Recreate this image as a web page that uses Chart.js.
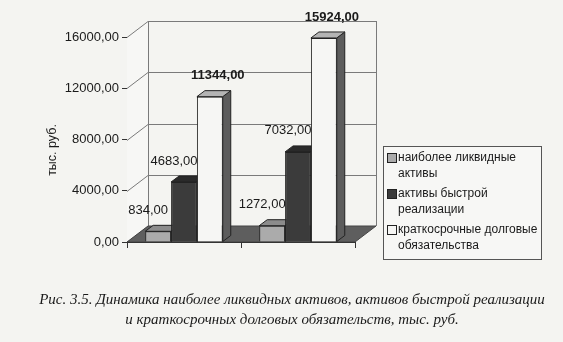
<!DOCTYPE html>
<html>
<head>
<meta charset="utf-8">
<script src="https://cdn.jsdelivr.net/npm/chart.js@4/dist/chart.umd.min.js"></script>
<style>
  html, body { margin: 0; padding: 0; background: #f4f4f1; }
  #wrap { position: relative; width: 563px; height: 342px; }
</style>
</head>
<body>
<div id="wrap"><canvas id="chart" width="563" height="342"></canvas></div>
<script>
// data
var categories = ["", ""];
var seriesNames = ["наиболее ликвидные активы", "активы быстрой реализации", "краткосрочные долговые обязательства"];
var liquid = [834, 1272];
var quick = [4683, 7032];
var shortDebt = [11344, 15924];
var yTicks = [0, 4000, 8000, 12000, 16000];
var yTitle = "тыс. руб.";
var caption = ["Рис. 3.5. Динамика наиболее ликвидных активов, активов быстрой реализации",
               "и краткосрочных долговых обязательств, тыс. руб."];

// colours: front, top, side
var faces = [
  ["#ababab", "#8c8c8c", "#6e6e6e"],
  ["#3b3b3b", "#2a2a2a", "#262626"],
  ["#f6f6f4", "#b4b4b4", "#5c5c5c"]
];

function fmt(v) { return v.toFixed(2).replace(".", ","); }

var wall = { dx: 21, dy: -16 };
var bar3d = { dx: 8, dy: -6 };
var sans = "'Liberation Sans', Arial, sans-serif";

function poly(ctx, pts, fill, stroke) {
  ctx.beginPath();
  ctx.moveTo(pts[0][0], pts[0][1]);
  for (var i = 1; i < pts.length; i++) ctx.lineTo(pts[i][0], pts[i][1]);
  ctx.closePath();
  if (fill) { ctx.fillStyle = fill; ctx.fill(); }
  if (stroke) { ctx.strokeStyle = stroke; ctx.lineWidth = 1; ctx.stroke(); }
}

var threeD = {
  id: "threeD",
  beforeDatasetsDraw: function(chart) {
    var ctx = chart.ctx, a = chart.chartArea, y = chart.scales.y;
    ctx.save();
    // walls
    poly(ctx, [[a.left, a.bottom], [a.left, a.top], [a.left + wall.dx, a.top + wall.dy], [a.left + wall.dx, a.bottom + wall.dy]], "#f7f7f5", null);
    ctx.strokeStyle = "#7a7a7a";
    ctx.lineWidth = 1;
    yTicks.forEach(function(v) {
      var py = Math.round(y.getPixelForValue(v)) + 0.5;
      ctx.beginPath();
      ctx.moveTo(a.left, py);
      ctx.lineTo(a.left + wall.dx, py + wall.dy);
      ctx.lineTo(a.right + wall.dx, py + wall.dy);
      ctx.stroke();
    });
    ctx.beginPath();
    ctx.moveTo(a.left + wall.dx + 0.5, a.top + wall.dy);
    ctx.lineTo(a.left + wall.dx + 0.5, a.bottom + wall.dy);
    ctx.moveTo(a.right + wall.dx + 0.5, a.top + wall.dy);
    ctx.lineTo(a.right + wall.dx + 0.5, a.bottom + wall.dy);
    ctx.stroke();
    // floor
    poly(ctx, [[a.left, a.bottom], [a.right, a.bottom], [a.right + wall.dx, a.bottom + wall.dy], [a.left + wall.dx, a.bottom + wall.dy]], "#5e5e5e", "#444");
    // x axis ticks
    ctx.strokeStyle = "#333";
    ctx.beginPath();
    ctx.moveTo(a.left, a.bottom + 0.5);
    ctx.lineTo(a.right, a.bottom + 0.5);
    var step = (a.right - a.left) / categories.length;
    for (var k = 0; k <= categories.length; k++) {
      var px = Math.round(a.left + k * step) + 0.5;
      ctx.moveTo(px, a.bottom);
      ctx.lineTo(px, a.bottom + 6);
    }
    ctx.stroke();
    // top and side faces of every bar
    chart.data.datasets.forEach(function(ds, i) {
      chart.getDatasetMeta(i).data.forEach(function(b) {
        var x0 = b.x - b.width / 2, x1 = b.x + b.width / 2, t = b.y, base = b.base;
        poly(ctx, [[x1, base], [x1, t], [x1 + bar3d.dx, t + bar3d.dy], [x1 + bar3d.dx, base + bar3d.dy]], faces[i][2], "#222");
        poly(ctx, [[x0, t], [x1, t], [x1 + bar3d.dx, t + bar3d.dy], [x0 + bar3d.dx, t + bar3d.dy]], faces[i][1], "#222");
      });
    });
    ctx.restore();
  },
  afterDraw: function(chart) {
    var ctx = chart.ctx;
    ctx.save();
    // value labels
    var offX = [-10, -10, 8];
    ctx.textAlign = "center";
    ctx.textBaseline = "middle";
    chart.data.datasets.forEach(function(ds, i) {
      ctx.font = (i === 2 ? "bold " : "") + "13px " + sans;
      ctx.fillStyle = "#1a1a1a";
      chart.getDatasetMeta(i).data.forEach(function(b, j) {
        ctx.fillText(fmt(ds.data[j]), b.x + offX[i], b.y - 21);
      });
    });
    // y axis title
    ctx.save();
    ctx.translate(53, 150);
    ctx.rotate(-Math.PI / 2);
    ctx.font = "12.5px " + sans;
    ctx.fillText(yTitle, 0, 0);
    ctx.restore();
    // legend
    var lx = 383, ly = 146, lw = 158, lh = 113;
    ctx.fillStyle = "#f7f7f5";
    ctx.fillRect(lx, ly, lw, lh);
    ctx.strokeStyle = "#555";
    ctx.lineWidth = 1;
    ctx.strokeRect(lx + 0.5, ly + 0.5, lw, lh);
    ctx.font = "12px " + sans;
    ctx.textAlign = "left";
    var rowY = ly + 12;
    seriesNames.forEach(function(name, i) {
      var words = name.split(" "), lines = [], cur = "";
      words.forEach(function(w) {
        var test = cur ? cur + " " + w : w;
        if (ctx.measureText(test).width > 150 && cur) { lines.push(cur); cur = w; } else cur = test;
      });
      lines.push(cur);
      ctx.fillStyle = faces[i][0];
      ctx.fillRect(lx + 4, rowY - 5, 10, 10);
      ctx.strokeStyle = "#222";
      ctx.strokeRect(lx + 4.5, rowY - 4.5, 9, 9);
      ctx.fillStyle = "#1a1a1a";
      lines.forEach(function(l, k) { ctx.fillText(l, lx + 15, rowY + k * 16); });
      rowY += lines.length * 16 + 4;
    });
    // caption
    ctx.textAlign = "center";
    ctx.font = "italic 15px 'Liberation Serif', 'Times New Roman', serif";
    ctx.fillStyle = "#1a1a1a";
    caption.forEach(function(l, k) { ctx.fillText(l, 292, 300 + k * 20); });
    ctx.restore();
  }
};

var chart = new Chart(document.getElementById("chart"), {
  type: "bar",
  data: {
    labels: categories,
    datasets: [
      { label: seriesNames[0], data: liquid, backgroundColor: faces[0][0], borderColor: "#222", borderWidth: 1 },
      { label: seriesNames[1], data: quick, backgroundColor: faces[1][0], borderColor: "#222", borderWidth: 1 },
      { label: seriesNames[2], data: shortDebt, backgroundColor: faces[2][0], borderColor: "#222", borderWidth: 1 }
    ]
  },
  options: {
    responsive: false,
    animation: false,
    layout: { padding: { left: 0, top: 37, right: 208, bottom: 100 } },
    datasets: { bar: { categoryPercentage: 0.68, barPercentage: 1 } },
    plugins: { legend: { display: false }, tooltip: { enabled: false } },
    scales: {
      x: { display: false },
      y: {
        min: 0, max: 16000,
        afterFit: function(s) { s.width = 127; },
        afterBuildTicks: function(s) { s.ticks = yTicks.map(function(v) { return { value: v }; }); },
        ticks: { callback: function(v) { return fmt(v); }, color: "#1a1a1a", font: { family: sans, size: 13 }, padding: 3 },
        grid: { drawOnChartArea: false, tickLength: 5, color: "#333" },
        border: { display: true, color: "#333" }
      }
    }
  },
  plugins: [threeD]
});
</script>
</body>
</html>
